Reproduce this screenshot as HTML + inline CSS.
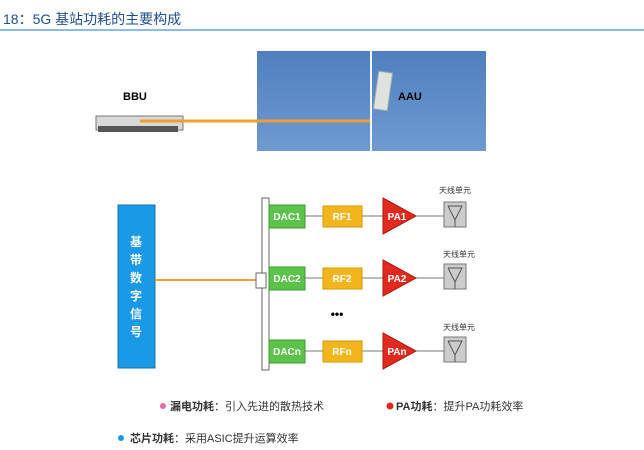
<!DOCTYPE html>
<html><head><meta charset="utf-8"><style>
html,body{margin:0;padding:0;background:#fff;width:644px;height:450px;overflow:hidden;position:relative;font-family:"Liberation Sans","Noto Sans CJK SC",sans-serif}
.a{position:absolute}
</style></head><body>
<div class="a" style="left:3px;top:9px;font-size:14px;color:#1f4e8c;white-space:nowrap">18：5G 基站功耗的主要构成</div>
<div class="a" style="left:0;top:29px;width:644px;height:2px;background:#8bbbe6"></div>
<svg class="a" style="left:0;top:0" width="644" height="450" xmlns="http://www.w3.org/2000/svg">
<defs><linearGradient id="sky" x1="0" y1="0" x2="0" y2="1"><stop offset="0" stop-color="#4f7fbf"/><stop offset="1" stop-color="#6e9ad0"/></linearGradient></defs>
<rect x="257" y="51" width="229" height="100" fill="url(#sky)"/>
<rect x="370" y="51" width="2" height="100" fill="#f2f4f6"/>
<rect x="376" y="72" width="14" height="38" fill="#dfe3e0" stroke="#9aa" stroke-width="1" transform="rotate(8 383 91)"/>
<rect x="96" y="116" width="87" height="14" fill="#d8d8d8" stroke="#777" stroke-width="1"/>
<rect x="98" y="126" width="80" height="6" fill="#555"/>
<line x1="140" y1="121" x2="370" y2="121" stroke="#f0a030" stroke-width="3"/>
<text x="123" y="100" font-size="11" font-weight="bold" font-family="Liberation Sans">BBU</text>
<text x="398" y="100" font-size="11" font-weight="bold" font-family="Liberation Sans">AAU</text>

<rect x="118" y="205" width="37" height="163" fill="#1a9ae6" stroke="#1673b0"/>
<g font-size="12" fill="#fff" font-weight="bold" text-anchor="middle" font-family="Noto Sans CJK SC,sans-serif">
<text x="136" y="246">基</text><text x="136" y="264">带</text><text x="136" y="282">数</text><text x="136" y="300">字</text><text x="136" y="318">信</text><text x="136" y="336">号</text></g>
<line x1="155" y1="280" x2="256" y2="280" stroke="#f0a030" stroke-width="2"/>
<rect x="262" y="198" width="7" height="172" fill="#fff" stroke="#666"/>
<rect x="256" y="273" width="10" height="15" fill="#fff" stroke="#666"/>
<g font-family="Liberation Sans" font-size="10" font-weight="bold" fill="#fff" text-anchor="middle">
<g id="r1">
<line x1="305" y1="216" x2="444" y2="216" stroke="#777"/>
<rect x="269" y="205" width="36" height="23" fill="#5cc34a" stroke="#3d9a30"/>
<rect x="323" y="206" width="39" height="21" fill="#f2b61c" stroke="#d19a00"/>
<polygon points="383,198 416,216 383,234" fill="#e02a20" stroke="#b01a10"/>
<rect x="444" y="202" width="22" height="25" fill="#ccc" stroke="#777"/>
<polyline points="448,206 462,206 455,220 448,206" fill="none" stroke="#555"/><line x1="455" y1="220" x2="455" y2="227" stroke="#555"/>
</g>
<text x="287" y="220">DAC1</text><text x="342" y="220">RF1</text><text x="397" y="220">PA1</text>
<use href="#r1" y="62"/>
<text x="287" y="282">DAC2</text><text x="342" y="282">RF2</text><text x="397" y="282">PA2</text>
<use href="#r1" y="135"/>
<text x="287" y="355">DACn</text><text x="342" y="355">RFn</text><text x="397" y="355">PAn</text>
</g>
<g font-size="8" fill="#333" font-family="Noto Sans CJK SC,sans-serif" text-anchor="middle">
<text x="455" y="193">天线单元</text><text x="459" y="257">天线单元</text><text x="459" y="330">天线单元</text></g>
<text x="337" y="318" font-size="12" font-weight="bold" text-anchor="middle" font-family="Liberation Sans">•••</text>
<circle cx="163" cy="406" r="3" fill="#e86aa8"/>
<circle cx="390" cy="406" r="3.5" fill="#e02a20"/>
<circle cx="121" cy="438" r="3" fill="#1a9ae6"/>
<g font-size="11" fill="#333" font-family="Liberation Sans,Noto Sans CJK SC,sans-serif">
<text x="170" y="410"><tspan font-weight="bold">漏电功耗</tspan>：引入先进的散热技术</text>
<text x="396" y="410"><tspan font-weight="bold">PA功耗</tspan>：提升PA功耗效率</text>
<text x="130" y="442"><tspan font-weight="bold">芯片功耗</tspan>：采用ASIC提升运算效率</text>
</g>
</svg>
</body></html>
